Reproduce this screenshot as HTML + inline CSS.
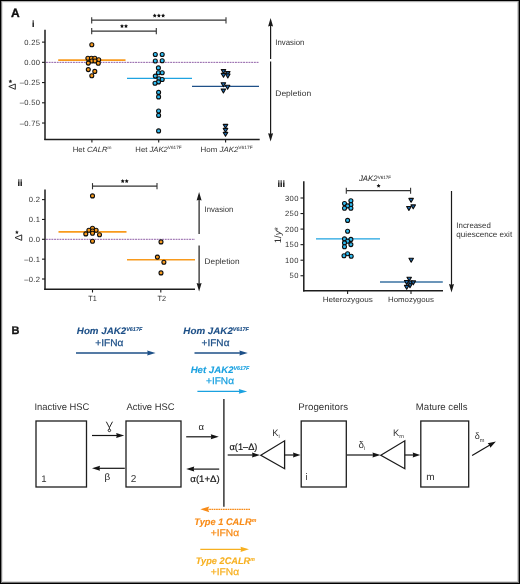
<!DOCTYPE html>
<html><head><meta charset="utf-8"><style>
html,body{margin:0;padding:0;background:#fff;width:520px;height:584px;overflow:hidden;}
svg{display:block;font-family:"Liberation Sans", sans-serif;will-change:transform;text-rendering:geometricPrecision;}
</style></head><body>
<svg width="520" height="584" viewBox="0 0 520 584" font-family='"Liberation Sans", sans-serif'>
<g shape-rendering="crispEdges" stroke-width="1"><line x1="0" y1="2.5" x2="520" y2="2.5" stroke="#f0f0f0"/><line x1="0" y1="581.5" x2="520" y2="581.5" stroke="#d8d8d8"/><line x1="2.5" y1="0" x2="2.5" y2="584" stroke="#e2e2e2"/><line x1="517.5" y1="0" x2="517.5" y2="584" stroke="#d0d0d0"/><line x1="0" y1="1.5" x2="520" y2="1.5" stroke="#b0b0b0"/><line x1="0" y1="582.5" x2="520" y2="582.5" stroke="#707070"/><line x1="1.5" y1="0" x2="1.5" y2="584" stroke="#808080"/><line x1="518.5" y1="0" x2="518.5" y2="584" stroke="#787878"/><line x1="0" y1="0.5" x2="520" y2="0.5" stroke="#000"/><line x1="0" y1="583.5" x2="520" y2="583.5" stroke="#000"/><line x1="0.5" y1="0" x2="0.5" y2="584" stroke="#000"/><line x1="519.5" y1="0" x2="519.5" y2="584" stroke="#000"/></g>
<text x="11.0" y="16.8" font-size="12.0" fill="#111" text-anchor="start" font-weight="bold" font-style="normal" stroke="#111" stroke-width="0.35">A</text>
<text x="32.0" y="26.9" font-size="9" fill="#111" text-anchor="start" font-weight="bold" font-style="normal" stroke="#111" stroke-width="0.2">i</text>
<text x="17.6" y="185.7" font-size="9" fill="#111" text-anchor="start" font-weight="bold" font-style="normal" stroke="#111" stroke-width="0.2">ii</text>
<text x="277.6" y="186.7" font-size="9" fill="#111" text-anchor="start" font-weight="bold" font-style="normal" stroke="#111" stroke-width="0.2">iii</text>
<text x="11.6" y="333.9" font-size="11" fill="#111" text-anchor="start" font-weight="bold" font-style="normal" stroke="#111" stroke-width="0.3">B</text>
<line x1="42" y1="42.125" x2="45" y2="42.125" stroke="#1c1c1c" stroke-width="1.1" />
<text x="40.4" y="44.725" font-size="7.6" fill="#303030" text-anchor="end" font-weight="normal" font-style="normal" letter-spacing="0.35">0.25</text>
<line x1="42" y1="62.35" x2="45" y2="62.35" stroke="#1c1c1c" stroke-width="1.1" />
<text x="40.4" y="64.95" font-size="7.6" fill="#303030" text-anchor="end" font-weight="normal" font-style="normal" letter-spacing="0.35">0.00</text>
<line x1="42" y1="82.575" x2="45" y2="82.575" stroke="#1c1c1c" stroke-width="1.1" />
<text x="40.4" y="85.175" font-size="7.6" fill="#303030" text-anchor="end" font-weight="normal" font-style="normal" letter-spacing="0.35">–0.25</text>
<line x1="42" y1="102.80000000000001" x2="45" y2="102.80000000000001" stroke="#1c1c1c" stroke-width="1.1" />
<text x="40.4" y="105.4" font-size="7.6" fill="#303030" text-anchor="end" font-weight="normal" font-style="normal" letter-spacing="0.35">–0.50</text>
<line x1="42" y1="123.025" x2="45" y2="123.025" stroke="#1c1c1c" stroke-width="1.1" />
<text x="40.4" y="125.625" font-size="7.6" fill="#303030" text-anchor="end" font-weight="normal" font-style="normal" letter-spacing="0.35">–0.75</text>
<line x1="46" y1="62.35" x2="259.3" y2="62.35" stroke="#7a4096" stroke-width="0.85" stroke-dasharray="1.9,0.8"/>
<line x1="58.2" y1="60.1" x2="125.5" y2="60.1" stroke="#f89a1c" stroke-width="1.6" />
<line x1="127" y1="78.4" x2="192" y2="78.4" stroke="#1ea3e1" stroke-width="1.3" />
<line x1="192" y1="86.3" x2="259" y2="86.3" stroke="#1f5088" stroke-width="1.35" />
<circle cx="91.8" cy="44.8" r="2.0" fill="#f89a1c" stroke="#0d0d0d" stroke-width="1.1"/>
<circle cx="87.9" cy="58.3" r="2.0" fill="#f89a1c" stroke="#0d0d0d" stroke-width="1.1"/>
<circle cx="91.4" cy="58.3" r="2.0" fill="#f89a1c" stroke="#0d0d0d" stroke-width="1.1"/>
<circle cx="94.8" cy="58.3" r="2.0" fill="#f89a1c" stroke="#0d0d0d" stroke-width="1.1"/>
<circle cx="98.7" cy="59.7" r="2.0" fill="#f89a1c" stroke="#0d0d0d" stroke-width="1.1"/>
<circle cx="91.8" cy="61" r="2.0" fill="#f89a1c" stroke="#0d0d0d" stroke-width="1.1"/>
<circle cx="95" cy="61" r="2.0" fill="#f89a1c" stroke="#0d0d0d" stroke-width="1.1"/>
<circle cx="88.3" cy="63.1" r="2.0" fill="#f89a1c" stroke="#0d0d0d" stroke-width="1.1"/>
<circle cx="98.3" cy="63.3" r="2.0" fill="#f89a1c" stroke="#0d0d0d" stroke-width="1.1"/>
<circle cx="88.3" cy="69.6" r="2.0" fill="#f89a1c" stroke="#0d0d0d" stroke-width="1.1"/>
<circle cx="94.8" cy="71.4" r="2.0" fill="#f89a1c" stroke="#0d0d0d" stroke-width="1.1"/>
<circle cx="91.8" cy="75.8" r="2.0" fill="#f89a1c" stroke="#0d0d0d" stroke-width="1.1"/>
<circle cx="155.3" cy="54.5" r="2.0" fill="#2fbcf2" stroke="#0d0d0d" stroke-width="1.1"/>
<circle cx="162.2" cy="54.5" r="2.0" fill="#2fbcf2" stroke="#0d0d0d" stroke-width="1.1"/>
<circle cx="155.3" cy="61" r="2.0" fill="#2fbcf2" stroke="#0d0d0d" stroke-width="1.1"/>
<circle cx="162.2" cy="60.7" r="2.0" fill="#2fbcf2" stroke="#0d0d0d" stroke-width="1.1"/>
<circle cx="158.4" cy="67.9" r="2.0" fill="#2fbcf2" stroke="#0d0d0d" stroke-width="1.1"/>
<circle cx="158.4" cy="72.7" r="2.0" fill="#2fbcf2" stroke="#0d0d0d" stroke-width="1.1"/>
<circle cx="162.2" cy="72.7" r="2.0" fill="#2fbcf2" stroke="#0d0d0d" stroke-width="1.1"/>
<circle cx="155.3" cy="76.1" r="2.0" fill="#2fbcf2" stroke="#0d0d0d" stroke-width="1.1"/>
<circle cx="159" cy="78.8" r="2.0" fill="#2fbcf2" stroke="#0d0d0d" stroke-width="1.1"/>
<circle cx="162.2" cy="79.5" r="2.0" fill="#2fbcf2" stroke="#0d0d0d" stroke-width="1.1"/>
<circle cx="158.5" cy="81.9" r="2.0" fill="#2fbcf2" stroke="#0d0d0d" stroke-width="1.1"/>
<circle cx="155" cy="83.3" r="2.0" fill="#2fbcf2" stroke="#0d0d0d" stroke-width="1.1"/>
<circle cx="158.6" cy="92.4" r="2.0" fill="#2fbcf2" stroke="#0d0d0d" stroke-width="1.1"/>
<circle cx="158.6" cy="96.9" r="2.0" fill="#2fbcf2" stroke="#0d0d0d" stroke-width="1.1"/>
<circle cx="158.6" cy="111" r="2.0" fill="#2fbcf2" stroke="#0d0d0d" stroke-width="1.1"/>
<circle cx="158.6" cy="115.4" r="2.0" fill="#2fbcf2" stroke="#0d0d0d" stroke-width="1.1"/>
<circle cx="158.6" cy="130.9" r="2.0" fill="#2fbcf2" stroke="#0d0d0d" stroke-width="1.1"/>
<path d="M221.25,69.60 L225.75,69.60 L223.50,73.50 Z" fill="#1d6cb3" stroke="#0d0d0d" stroke-width="1.1" stroke-linejoin="round"/>
<path d="M225.55,71.60 L230.05,71.60 L227.80,75.50 Z" fill="#1d6cb3" stroke="#0d0d0d" stroke-width="1.1" stroke-linejoin="round"/>
<path d="M225.55,74.00 L230.05,74.00 L227.80,77.90 Z" fill="#1d6cb3" stroke="#0d0d0d" stroke-width="1.1" stroke-linejoin="round"/>
<path d="M221.25,73.40 L225.75,73.40 L223.50,77.30 Z" fill="#1d6cb3" stroke="#0d0d0d" stroke-width="1.1" stroke-linejoin="round"/>
<path d="M221.15,82.75 L225.65,82.75 L223.40,86.65 Z" fill="#1d6cb3" stroke="#0d0d0d" stroke-width="1.1" stroke-linejoin="round"/>
<path d="M225.35,85.30 L229.85,85.30 L227.60,89.20 Z" fill="#1d6cb3" stroke="#0d0d0d" stroke-width="1.1" stroke-linejoin="round"/>
<path d="M221.15,89.10 L225.65,89.10 L223.40,93.00 Z" fill="#1d6cb3" stroke="#0d0d0d" stroke-width="1.1" stroke-linejoin="round"/>
<path d="M223.25,124.40 L227.75,124.40 L225.50,128.30 Z" fill="#1d6cb3" stroke="#0d0d0d" stroke-width="1.1" stroke-linejoin="round"/>
<path d="M223.25,128.40 L227.75,128.40 L225.50,132.30 Z" fill="#1d6cb3" stroke="#0d0d0d" stroke-width="1.1" stroke-linejoin="round"/>
<path d="M223.25,132.40 L227.75,132.40 L225.50,136.30 Z" fill="#1d6cb3" stroke="#0d0d0d" stroke-width="1.1" stroke-linejoin="round"/>
<line x1="45" y1="29.8" x2="45" y2="140.1" stroke="#1c1c1c" stroke-width="1.5" />
<line x1="44.3" y1="139.4" x2="259.7" y2="139.4" stroke="#1e1e1e" stroke-width="1.5" />
<line x1="91.9" y1="139.4" x2="91.9" y2="142.6" stroke="#1c1c1c" stroke-width="1.1" />
<line x1="158.7" y1="139.4" x2="158.7" y2="142.6" stroke="#1c1c1c" stroke-width="1.1" />
<line x1="225.6" y1="139.4" x2="225.6" y2="142.6" stroke="#1c1c1c" stroke-width="1.1" />
<line x1="91.7" y1="20.2" x2="226" y2="20.2" stroke="#333" stroke-width="1.2" />
<line x1="91.7" y1="17.2" x2="91.7" y2="23.4" stroke="#333" stroke-width="1.1" />
<line x1="226" y1="17.2" x2="226" y2="23.4" stroke="#333" stroke-width="1.1" />
<line x1="91.7" y1="31.1" x2="156.3" y2="31.1" stroke="#333" stroke-width="1.2" />
<line x1="91.7" y1="28" x2="91.7" y2="34.2" stroke="#333" stroke-width="1.1" />
<line x1="156.3" y1="28" x2="156.3" y2="34.2" stroke="#333" stroke-width="1.1" />
<polygon points="154.70,13.60 155.32,14.85 156.70,15.05 155.70,16.02 155.93,17.40 154.70,16.75 153.47,17.40 153.70,16.02 152.70,15.05 154.08,14.85" fill="#111"/>
<polygon points="158.90,13.60 159.52,14.85 160.90,15.05 159.90,16.02 160.13,17.40 158.90,16.75 157.67,17.40 157.90,16.02 156.90,15.05 158.28,14.85" fill="#111"/>
<polygon points="163.10,13.60 163.72,14.85 165.10,15.05 164.10,16.02 164.33,17.40 163.10,16.75 161.87,17.40 162.10,16.02 161.10,15.05 162.48,14.85" fill="#111"/>
<polygon points="122.00,24.10 122.62,25.35 124.00,25.55 123.00,26.52 123.23,27.90 122.00,27.25 120.77,27.90 121.00,26.52 120.00,25.55 121.38,25.35" fill="#111"/>
<polygon points="126.00,24.10 126.62,25.35 128.00,25.55 127.00,26.52 127.23,27.90 126.00,27.25 124.77,27.90 125.00,26.52 124.00,25.55 125.38,25.35" fill="#111"/>
<text x="72.75" y="151.7" font-size="7.5" fill="#303030" text-anchor="start" font-weight="normal" font-style="normal"  textLength="38.80" lengthAdjust="spacingAndGlyphs">Het <tspan font-style="italic">CALR</tspan><tspan font-size="4.6" dy="-2.3">m</tspan></text>
<text x="135.35000000000002" y="151.7" font-size="7.5" fill="#303030" text-anchor="start" font-weight="normal" font-style="normal"  textLength="46.40" lengthAdjust="spacingAndGlyphs">Het <tspan font-style="italic">JAK2</tspan><tspan font-size="4.6" dy="-2.3">V617F</tspan></text>
<text x="200.55" y="151.7" font-size="7.5" fill="#303030" text-anchor="start" font-weight="normal" font-style="normal"  textLength="52.10" lengthAdjust="spacingAndGlyphs">Hom <tspan font-style="italic">JAK2</tspan><tspan font-size="4.6" dy="-2.3">V617F</tspan></text>
<path d="M8.8,86.5 L15.3,84.0 L15.3,89.3 Z" fill="none" stroke="#222" stroke-width="0.95" stroke-linejoin="miter"/>
<polygon points="10.40,79.45 10.97,80.61 12.25,80.80 11.33,81.70 11.55,82.98 10.40,82.38 9.25,82.98 9.47,81.70 8.55,80.80 9.83,80.61" fill="#222"/>
<line x1="270.6" y1="59.0" x2="270.6" y2="23.14" stroke="#1a1a1a" stroke-width="1.2" />
<path d="M270.6,18.1 L268.1,26.5 L270.6,25.828000000000003 L273.1,26.5 Z" fill="#1a1a1a"/>
<line x1="270.6" y1="61.6" x2="270.6" y2="136.56" stroke="#1a1a1a" stroke-width="1.2" />
<path d="M270.6,141.6 L268.1,133.2 L270.6,133.87199999999999 L273.1,133.2 Z" fill="#1a1a1a"/>
<text x="275.25" y="45.0" font-size="8.1" fill="#303030" text-anchor="start" font-weight="normal" font-style="normal"  textLength="29.10" lengthAdjust="spacingAndGlyphs">Invasion</text>
<text x="275.25" y="95.6" font-size="8.1" fill="#303030" text-anchor="start" font-weight="normal" font-style="normal"  textLength="35.90" lengthAdjust="spacingAndGlyphs">Depletion</text>
<line x1="42" y1="199.60000000000002" x2="45" y2="199.60000000000002" stroke="#1c1c1c" stroke-width="1.1" />
<text x="40.4" y="202.20000000000002" font-size="7.6" fill="#303030" text-anchor="end" font-weight="normal" font-style="normal" letter-spacing="0.35">0.2</text>
<line x1="42" y1="219.45000000000002" x2="45" y2="219.45000000000002" stroke="#1c1c1c" stroke-width="1.1" />
<text x="40.4" y="222.05" font-size="7.6" fill="#303030" text-anchor="end" font-weight="normal" font-style="normal" letter-spacing="0.35">0.1</text>
<line x1="42" y1="239.3" x2="45" y2="239.3" stroke="#1c1c1c" stroke-width="1.1" />
<text x="40.4" y="241.9" font-size="7.6" fill="#303030" text-anchor="end" font-weight="normal" font-style="normal" letter-spacing="0.35">0.0</text>
<line x1="42" y1="259.15000000000003" x2="45" y2="259.15000000000003" stroke="#1c1c1c" stroke-width="1.1" />
<text x="40.4" y="261.75000000000006" font-size="7.6" fill="#303030" text-anchor="end" font-weight="normal" font-style="normal" letter-spacing="0.35">–0.1</text>
<line x1="42" y1="279.0" x2="45" y2="279.0" stroke="#1c1c1c" stroke-width="1.1" />
<text x="40.4" y="281.6" font-size="7.6" fill="#303030" text-anchor="end" font-weight="normal" font-style="normal" letter-spacing="0.35">–0.2</text>
<line x1="46" y1="239.3" x2="195" y2="239.3" stroke="#7a4096" stroke-width="0.85" stroke-dasharray="1.9,0.8"/>
<line x1="58.5" y1="231.9" x2="126.5" y2="231.9" stroke="#f89a1c" stroke-width="1.6" />
<line x1="127" y1="259.8" x2="195" y2="259.8" stroke="#f89a1c" stroke-width="1.6" />
<circle cx="92.5" cy="195.9" r="2.0" fill="#f89a1c" stroke="#0d0d0d" stroke-width="1.1"/>
<circle cx="92.5" cy="228.3" r="2.0" fill="#f89a1c" stroke="#0d0d0d" stroke-width="1.1"/>
<circle cx="88.9" cy="230.2" r="2.0" fill="#f89a1c" stroke="#0d0d0d" stroke-width="1.1"/>
<circle cx="96.1" cy="230.2" r="2.0" fill="#f89a1c" stroke="#0d0d0d" stroke-width="1.1"/>
<circle cx="92.5" cy="231" r="2.0" fill="#f89a1c" stroke="#0d0d0d" stroke-width="1.1"/>
<circle cx="92.5" cy="233.3" r="2.0" fill="#f89a1c" stroke="#0d0d0d" stroke-width="1.1"/>
<circle cx="85.8" cy="233.9" r="2.0" fill="#f89a1c" stroke="#0d0d0d" stroke-width="1.1"/>
<circle cx="99.5" cy="234.8" r="2.0" fill="#f89a1c" stroke="#0d0d0d" stroke-width="1.1"/>
<circle cx="92.5" cy="241.2" r="2.0" fill="#f89a1c" stroke="#0d0d0d" stroke-width="1.1"/>
<circle cx="161" cy="241.9" r="2.0" fill="#f89a1c" stroke="#0d0d0d" stroke-width="1.1"/>
<circle cx="157.4" cy="257.1" r="2.0" fill="#f89a1c" stroke="#0d0d0d" stroke-width="1.1"/>
<circle cx="163.9" cy="262.2" r="2.0" fill="#f89a1c" stroke="#0d0d0d" stroke-width="1.1"/>
<circle cx="161" cy="272.9" r="2.0" fill="#f89a1c" stroke="#0d0d0d" stroke-width="1.1"/>
<line x1="45" y1="189.6" x2="45" y2="290" stroke="#1c1c1c" stroke-width="1.5" />
<line x1="44.3" y1="289.3" x2="195" y2="289.3" stroke="#1c1c1c" stroke-width="1.5" />
<line x1="92.5" y1="289.3" x2="92.5" y2="292.5" stroke="#1c1c1c" stroke-width="1.1" />
<line x1="160.8" y1="289.3" x2="160.8" y2="292.5" stroke="#1c1c1c" stroke-width="1.1" />
<line x1="92.5" y1="186.2" x2="157" y2="186.2" stroke="#333" stroke-width="1.2" />
<line x1="92.5" y1="183.1" x2="92.5" y2="189.3" stroke="#333" stroke-width="1.1" />
<line x1="157" y1="183.1" x2="157" y2="189.3" stroke="#333" stroke-width="1.1" />
<polygon points="122.70,179.10 123.32,180.35 124.70,180.55 123.70,181.52 123.93,182.90 122.70,182.25 121.47,182.90 121.70,181.52 120.70,180.55 122.08,180.35" fill="#111"/>
<polygon points="126.70,179.10 127.32,180.35 128.70,180.55 127.70,181.52 127.93,182.90 126.70,182.25 125.47,182.90 125.70,181.52 124.70,180.55 126.08,180.35" fill="#111"/>
<text x="88.25" y="301.2" font-size="7.5" fill="#303030" text-anchor="start" font-weight="normal" font-style="normal"  textLength="8.50" lengthAdjust="spacingAndGlyphs">T1</text>
<text x="157.45000000000002" y="301.2" font-size="7.5" fill="#303030" text-anchor="start" font-weight="normal" font-style="normal"  textLength="8.60" lengthAdjust="spacingAndGlyphs">T2</text>
<path d="M15.0,237.6 L21.7,234.9 L21.7,240.4 Z" fill="none" stroke="#222" stroke-width="0.95" stroke-linejoin="miter"/>
<polygon points="16.90,230.35 17.47,231.51 18.75,231.70 17.83,232.60 18.05,233.88 16.90,233.28 15.75,233.88 15.97,232.60 15.05,231.70 16.33,231.51" fill="#222"/>
<line x1="199.1" y1="234.1" x2="199.1" y2="197.04" stroke="#1a1a1a" stroke-width="1.2" />
<path d="M199.1,192.0 L196.6,200.4 L199.1,199.728 L201.6,200.4 Z" fill="#1a1a1a"/>
<line x1="199.1" y1="245.4" x2="199.1" y2="286.46" stroke="#1a1a1a" stroke-width="1.2" />
<path d="M199.1,291.5 L196.6,283.1 L199.1,283.772 L201.6,283.1 Z" fill="#1a1a1a"/>
<text x="204.55" y="212.3" font-size="8.1" fill="#303030" text-anchor="start" font-weight="normal" font-style="normal"  textLength="28.80" lengthAdjust="spacingAndGlyphs">Invasion</text>
<text x="204.55" y="264.1" font-size="8.1" fill="#303030" text-anchor="start" font-weight="normal" font-style="normal"  textLength="35.00" lengthAdjust="spacingAndGlyphs">Depletion</text>
<line x1="300.5" y1="198.0" x2="303.8" y2="198.0" stroke="#1c1c1c" stroke-width="1.1" />
<text x="298.8" y="200.6" font-size="7.6" fill="#303030" text-anchor="end" font-weight="normal" font-style="normal" letter-spacing="0.4">300</text>
<line x1="300.5" y1="213.55" x2="303.8" y2="213.55" stroke="#1c1c1c" stroke-width="1.1" />
<text x="298.8" y="216.15" font-size="7.6" fill="#303030" text-anchor="end" font-weight="normal" font-style="normal" letter-spacing="0.4">250</text>
<line x1="300.5" y1="229.1" x2="303.8" y2="229.1" stroke="#1c1c1c" stroke-width="1.1" />
<text x="298.8" y="231.7" font-size="7.6" fill="#303030" text-anchor="end" font-weight="normal" font-style="normal" letter-spacing="0.4">200</text>
<line x1="300.5" y1="244.65" x2="303.8" y2="244.65" stroke="#1c1c1c" stroke-width="1.1" />
<text x="298.8" y="247.25" font-size="7.6" fill="#303030" text-anchor="end" font-weight="normal" font-style="normal" letter-spacing="0.4">150</text>
<line x1="300.5" y1="260.2" x2="303.8" y2="260.2" stroke="#1c1c1c" stroke-width="1.1" />
<text x="298.8" y="262.8" font-size="7.6" fill="#303030" text-anchor="end" font-weight="normal" font-style="normal" letter-spacing="0.4">100</text>
<line x1="300.5" y1="275.75" x2="303.8" y2="275.75" stroke="#1c1c1c" stroke-width="1.1" />
<text x="298.8" y="278.35" font-size="7.6" fill="#303030" text-anchor="end" font-weight="normal" font-style="normal" letter-spacing="0.4">50</text>
<line x1="316" y1="238.9" x2="380" y2="238.9" stroke="#1ea3e1" stroke-width="1.3" />
<line x1="380" y1="282" x2="442.8" y2="282" stroke="#3a72a2" stroke-width="1.5" />
<circle cx="350.9" cy="200.8" r="2.0" fill="#2fbcf2" stroke="#0d0d0d" stroke-width="1.1"/>
<circle cx="344.5" cy="203.5" r="2.0" fill="#2fbcf2" stroke="#0d0d0d" stroke-width="1.1"/>
<circle cx="350.9" cy="204.8" r="2.0" fill="#2fbcf2" stroke="#0d0d0d" stroke-width="1.1"/>
<circle cx="347.6" cy="205.9" r="2.0" fill="#2fbcf2" stroke="#0d0d0d" stroke-width="1.1"/>
<circle cx="344.5" cy="208.3" r="2.0" fill="#2fbcf2" stroke="#0d0d0d" stroke-width="1.1"/>
<circle cx="350.9" cy="208.3" r="2.0" fill="#2fbcf2" stroke="#0d0d0d" stroke-width="1.1"/>
<circle cx="347.6" cy="220.4" r="2.0" fill="#2fbcf2" stroke="#0d0d0d" stroke-width="1.1"/>
<circle cx="347.6" cy="231.2" r="2.0" fill="#2fbcf2" stroke="#0d0d0d" stroke-width="1.1"/>
<circle cx="344.5" cy="238.9" r="2.0" fill="#2fbcf2" stroke="#0d0d0d" stroke-width="1.1"/>
<circle cx="350.9" cy="239.4" r="2.0" fill="#2fbcf2" stroke="#0d0d0d" stroke-width="1.1"/>
<circle cx="347.6" cy="241.3" r="2.0" fill="#2fbcf2" stroke="#0d0d0d" stroke-width="1.1"/>
<circle cx="344.5" cy="242.9" r="2.0" fill="#2fbcf2" stroke="#0d0d0d" stroke-width="1.1"/>
<circle cx="350.9" cy="244.6" r="2.0" fill="#2fbcf2" stroke="#0d0d0d" stroke-width="1.1"/>
<circle cx="344.5" cy="246.8" r="2.0" fill="#2fbcf2" stroke="#0d0d0d" stroke-width="1.1"/>
<circle cx="344" cy="255.8" r="2.0" fill="#2fbcf2" stroke="#0d0d0d" stroke-width="1.1"/>
<circle cx="347.6" cy="253.7" r="2.0" fill="#2fbcf2" stroke="#0d0d0d" stroke-width="1.1"/>
<circle cx="351.2" cy="256.3" r="2.0" fill="#2fbcf2" stroke="#0d0d0d" stroke-width="1.1"/>
<path d="M408.85,198.40 L413.35,198.40 L411.10,202.30 Z" fill="#1d6cb3" stroke="#0d0d0d" stroke-width="1.1" stroke-linejoin="round"/>
<path d="M406.65,206.50 L411.15,206.50 L408.90,210.40 Z" fill="#1d6cb3" stroke="#0d0d0d" stroke-width="1.1" stroke-linejoin="round"/>
<path d="M410.95,204.90 L415.45,204.90 L413.20,208.80 Z" fill="#1d6cb3" stroke="#0d0d0d" stroke-width="1.1" stroke-linejoin="round"/>
<path d="M408.95,258.30 L413.45,258.30 L411.20,262.20 Z" fill="#1d6cb3" stroke="#0d0d0d" stroke-width="1.1" stroke-linejoin="round"/>
<path d="M406.95,277.20 L411.45,277.20 L409.20,281.10 Z" fill="#1d6cb3" stroke="#0d0d0d" stroke-width="1.1" stroke-linejoin="round"/>
<path d="M404.45,280.50 L408.95,280.50 L406.70,284.40 Z" fill="#1d6cb3" stroke="#0d0d0d" stroke-width="1.1" stroke-linejoin="round"/>
<path d="M408.15,281.00 L412.65,281.00 L410.40,284.90 Z" fill="#1d6cb3" stroke="#0d0d0d" stroke-width="1.1" stroke-linejoin="round"/>
<path d="M411.05,280.90 L415.55,280.90 L413.30,284.80 Z" fill="#1d6cb3" stroke="#0d0d0d" stroke-width="1.1" stroke-linejoin="round"/>
<path d="M407.75,283.80 L412.25,283.80 L410.00,287.70 Z" fill="#1d6cb3" stroke="#0d0d0d" stroke-width="1.1" stroke-linejoin="round"/>
<path d="M404.45,285.40 L408.95,285.40 L406.70,289.30 Z" fill="#1d6cb3" stroke="#0d0d0d" stroke-width="1.1" stroke-linejoin="round"/>
<line x1="303.8" y1="181.3" x2="303.8" y2="291.4" stroke="#1c1c1c" stroke-width="1.5" />
<line x1="303.1" y1="290.7" x2="443" y2="290.7" stroke="#1c1c1c" stroke-width="1.5" />
<line x1="347.6" y1="290.7" x2="347.6" y2="293.9" stroke="#1c1c1c" stroke-width="1.1" />
<line x1="411" y1="290.7" x2="411" y2="293.9" stroke="#1c1c1c" stroke-width="1.1" />
<line x1="346.3" y1="190.7" x2="410.6" y2="190.7" stroke="#333" stroke-width="1.2" />
<line x1="346.3" y1="187.7" x2="346.3" y2="193.7" stroke="#333" stroke-width="1.1" />
<line x1="410.6" y1="187.7" x2="410.6" y2="193.7" stroke="#333" stroke-width="1.1" />
<polygon points="378.60,183.80 379.22,185.05 380.60,185.25 379.60,186.22 379.83,187.60 378.60,186.95 377.37,187.60 377.60,186.22 376.60,185.25 377.98,185.05" fill="#111"/>
<text x="358.95" y="180.7" font-size="7.9" fill="#262626" text-anchor="start" font-weight="normal" font-style="normal"  textLength="32.20" lengthAdjust="spacingAndGlyphs"><tspan font-style="italic">JAK2</tspan><tspan font-size="4.6" dy="-2.1">V617F</tspan></text>
<text x="322.65000000000003" y="301.7" font-size="7.6" fill="#303030" text-anchor="start" font-weight="normal" font-style="normal"  textLength="50.10" lengthAdjust="spacingAndGlyphs">Heterozygous</text>
<text x="387.95" y="301.7" font-size="7.6" fill="#303030" text-anchor="start" font-weight="normal" font-style="normal"  textLength="46.00" lengthAdjust="spacingAndGlyphs">Homozygous</text>
<text x="0" y="0" font-size="9.4" fill="#333" text-anchor="start" font-weight="normal" font-style="normal" transform="translate(280.6,243.2) rotate(-90)">1/<tspan font-style="italic">y</tspan>*</text>
<line x1="451.5" y1="191" x2="451.5" y2="287.46" stroke="#1a1a1a" stroke-width="1.2" />
<path d="M451.5,292.5 L449.0,284.1 L451.5,284.772 L454.0,284.1 Z" fill="#1a1a1a"/>
<text x="456.35" y="227.8" font-size="8.1" fill="#303030" text-anchor="start" font-weight="normal" font-style="normal"  textLength="34.40" lengthAdjust="spacingAndGlyphs">Increased</text>
<text x="456.35" y="236.8" font-size="8.1" fill="#303030" text-anchor="start" font-weight="normal" font-style="normal"  textLength="55.80" lengthAdjust="spacingAndGlyphs">quiescence exit</text>
<text x="76.85" y="334.1" font-size="9.5" fill="#1c4f87" text-anchor="start" font-weight="bold" font-style="italic" stroke="#1c4f87" stroke-width="0.12" textLength="65.40" lengthAdjust="spacingAndGlyphs">Hom JAK2<tspan font-size="5.3" dy="-3.0">V617F</tspan></text>
<text x="95.35" y="345.8" font-size="9.8" fill="#1c4f87" text-anchor="start" font-weight="normal" font-style="normal" stroke="#1c4f87" stroke-width="0.25" textLength="28.10" lengthAdjust="spacingAndGlyphs">+IFNα</text>
<line x1="76" y1="353.0" x2="150.56" y2="353.0" stroke="#1c4f87" stroke-width="1.3" />
<path d="M155.6,353.0 L147.2,350.55 L147.78799999999998,353.0 L147.2,355.45 Z" fill="#1c4f87"/>
<text x="183.35000000000002" y="334.1" font-size="9.5" fill="#1c4f87" text-anchor="start" font-weight="bold" font-style="italic" stroke="#1c4f87" stroke-width="0.12" textLength="65.60" lengthAdjust="spacingAndGlyphs">Hom JAK2<tspan font-size="5.3" dy="-3.0">V617F</tspan></text>
<text x="201.55" y="345.8" font-size="9.8" fill="#1c4f87" text-anchor="start" font-weight="normal" font-style="normal" stroke="#1c4f87" stroke-width="0.25" textLength="27.90" lengthAdjust="spacingAndGlyphs">+IFNα</text>
<line x1="194.5" y1="353.0" x2="242.76000000000002" y2="353.0" stroke="#1c4f87" stroke-width="1.3" />
<path d="M247.8,353.0 L239.4,350.55 L239.988,353.0 L239.4,355.45 Z" fill="#1c4f87"/>
<text x="190.65" y="372.8" font-size="9.5" fill="#1aa1e0" text-anchor="start" font-weight="bold" font-style="italic" stroke="#1aa1e0" stroke-width="0.12" textLength="58.70" lengthAdjust="spacingAndGlyphs">Het JAK2<tspan font-size="5.3" dy="-3.0">V617F</tspan></text>
<text x="206.05" y="384.0" font-size="9.8" fill="#1aa1e0" text-anchor="start" font-weight="normal" font-style="normal" stroke="#1aa1e0" stroke-width="0.25" textLength="27.90" lengthAdjust="spacingAndGlyphs">+IFNα</text>
<line x1="197.4" y1="391.4" x2="242.16" y2="391.4" stroke="#1aa1e0" stroke-width="1.3" />
<path d="M247.2,391.4 L238.79999999999998,388.95 L239.38799999999998,391.4 L238.79999999999998,393.84999999999997 Z" fill="#1aa1e0"/>
<rect x="36" y="421" width="50.5" height="66" fill="none" stroke="#1e1e1e" stroke-width="1.3"/>
<rect x="126" y="421" width="55" height="66" fill="none" stroke="#1e1e1e" stroke-width="1.3"/>
<rect x="301.2" y="421" width="45.10000000000002" height="66" fill="none" stroke="#1e1e1e" stroke-width="1.3"/>
<rect x="420.8" y="421" width="47.89999999999998" height="66" fill="none" stroke="#1e1e1e" stroke-width="1.3"/>
<text x="34.449999999999996" y="410" font-size="9.6" fill="#333" text-anchor="start" font-weight="normal" font-style="normal"  textLength="54.90" lengthAdjust="spacingAndGlyphs">Inactive HSC</text>
<text x="126.45" y="410" font-size="9.6" fill="#333" text-anchor="start" font-weight="normal" font-style="normal"  textLength="48.20" lengthAdjust="spacingAndGlyphs">Active HSC</text>
<text x="298.35" y="410" font-size="9.6" fill="#333" text-anchor="start" font-weight="normal" font-style="normal"  textLength="49.70" lengthAdjust="spacingAndGlyphs">Progenitors</text>
<text x="415.85" y="410" font-size="9.6" fill="#333" text-anchor="start" font-weight="normal" font-style="normal"  textLength="51.70" lengthAdjust="spacingAndGlyphs">Mature cells</text>
<text x="41.2" y="481.7" font-size="9.6" fill="#333" text-anchor="start" font-weight="normal" font-style="normal" >1</text>
<text x="130.8" y="481.9" font-size="10" fill="#333" text-anchor="start" font-weight="normal" font-style="normal" >2</text>
<text x="305.6" y="480.2" font-size="9.5" fill="#333" text-anchor="start" font-weight="normal" font-style="normal" >i</text>
<text x="426.15000000000003" y="480.4" font-size="9.8" fill="#333" text-anchor="start" font-weight="normal" font-style="normal"  textLength="8.40" lengthAdjust="spacingAndGlyphs">m</text>
<line x1="92" y1="435.5" x2="119.4" y2="435.5" stroke="#141414" stroke-width="1.2" />
<path d="M124.2,435.5 L116.2,433.0 L116.76,435.5 L116.2,438.0 Z" fill="#141414"/>
<line x1="124.8" y1="468.3" x2="96.8" y2="468.3" stroke="#141414" stroke-width="1.2" />
<path d="M92,468.3 L100,465.8 L99.44,468.3 L100,470.8 Z" fill="#141414"/>
<path d="M106.3,421.7 L109.4,427.6 L112.5,421.7 M109.4,427.6 L109.4,429" fill="none" stroke="#1a1a1a" stroke-width="0.95"/>
<circle cx="109.4" cy="430.4" r="1.25" fill="none" stroke="#1a1a1a" stroke-width="0.95"/>
<text x="104.45" y="480.4" font-size="9.3" fill="#1a1a1a" text-anchor="start" font-weight="normal" font-style="normal"  textLength="5.70" lengthAdjust="spacingAndGlyphs">β</text>
<line x1="186.2" y1="436.8" x2="214.0" y2="436.8" stroke="#141414" stroke-width="1.2" />
<path d="M218.8,436.8 L210.8,434.3 L211.36,436.8 L210.8,439.3 Z" fill="#141414"/>
<line x1="219.2" y1="469.1" x2="191.0" y2="469.1" stroke="#141414" stroke-width="1.2" />
<path d="M186.2,469.1 L194.2,466.6 L193.64,469.1 L194.2,471.6 Z" fill="#141414"/>
<text x="201.2" y="430" font-size="9.5" fill="#222" text-anchor="middle" font-weight="normal" font-style="normal" >α</text>
<text x="190.35000000000002" y="481.8" font-size="9.3" fill="#1a1a1a" text-anchor="start" font-weight="normal" font-style="normal" stroke="#1a1a1a" stroke-width="0.2" textLength="29.30" lengthAdjust="spacingAndGlyphs">α(1+Δ)</text>
<line x1="223.9" y1="399" x2="223.9" y2="506.8" stroke="#161616" stroke-width="1.3" />
<text x="229.55" y="449.5" font-size="9.3" fill="#1a1a1a" text-anchor="start" font-weight="normal" font-style="normal" stroke="#1a1a1a" stroke-width="0.2" textLength="27.80" lengthAdjust="spacingAndGlyphs">α(1–Δ)</text>
<line x1="227.7" y1="455" x2="255.2" y2="455" stroke="#141414" stroke-width="1.2" />
<path d="M260,455 L252,452.5 L252.56,455 L252,457.5 Z" fill="#141414"/>
<path d="M260.8,455.2 L284.6,440.8 L284.6,468.7 Z" fill="none" stroke="#1a1a1a" stroke-width="1.3" stroke-linejoin="miter"/>
<path d="M380.8,455.2 L404.8,440.8 L404.8,468.7 Z" fill="none" stroke="#1a1a1a" stroke-width="1.3" stroke-linejoin="miter"/>
<line x1="284.6" y1="455" x2="296.0" y2="455" stroke="#141414" stroke-width="1.2" />
<path d="M300.5,455 L293.0,452.5 L293.525,455 L293.0,457.5 Z" fill="#141414"/>
<line x1="347" y1="455" x2="375.7" y2="455" stroke="#141414" stroke-width="1.2" />
<path d="M380.5,455 L372.5,452.5 L373.06,455 L372.5,457.5 Z" fill="#141414"/>
<line x1="404.8" y1="455" x2="415.7" y2="455" stroke="#141414" stroke-width="1.2" />
<path d="M420.2,455 L412.7,452.5 L413.22499999999997,455 L412.7,457.5 Z" fill="#141414"/>
<text x="272.3" y="435.5" font-size="9.3" fill="#333" text-anchor="start" font-weight="normal" font-style="normal" >K<tspan font-size="5.6" dy="2.5">i</tspan></text>
<text x="393.0" y="435.5" font-size="9.3" fill="#333" text-anchor="start" font-weight="normal" font-style="normal" >K<tspan font-size="5.6" dy="2.5">m</tspan></text>
<text x="358.4" y="447.5" font-size="9.8" fill="#333" text-anchor="start" font-weight="normal" font-style="normal" >δ<tspan font-size="5.6" dy="2.5">i</tspan></text>
<text x="474.8" y="439.2" font-size="9.0" fill="#333" text-anchor="start" font-weight="normal" font-style="normal" >δ<tspan font-size="5.6" dy="2.6">m</tspan></text>
<g transform="translate(472.1,455.4) rotate(-30.47)"><line x1="0" y1="0" x2="22.61" y2="0" stroke="#141414" stroke-width="1.2"/><path d="M27.61,0 L19.61,-2.6 L20.21,0 L19.61,2.6 Z" fill="#141414"/></g>
<line x1="250" y1="509.3" x2="205.70000000000002" y2="509.3" stroke="#f88b17" stroke-width="1.25" stroke-dasharray="1.7,0.6"/>
<path d="M200.3,509.3 L209.3,506.40000000000003 L207.95000000000002,509.3 L209.3,512.2 Z" fill="#f88b17"/>
<text x="194.35000000000002" y="524.9" font-size="9.5" fill="#f88b17" text-anchor="start" font-weight="bold" font-style="italic" stroke="#f88b17" stroke-width="0.12" textLength="61.90" lengthAdjust="spacingAndGlyphs">Type 1 CALR<tspan font-size="5.3" dy="-3.0">m</tspan></text>
<text x="210.75" y="536.3" font-size="9.8" fill="#f88b17" text-anchor="start" font-weight="normal" font-style="normal" stroke="#f88b17" stroke-width="0.25" textLength="28.30" lengthAdjust="spacingAndGlyphs">+IFNα</text>
<line x1="200.3" y1="549.3" x2="243.9" y2="549.3" stroke="#f7b020" stroke-width="1.3" />
<path d="M249,549.3 L240.5,546.6999999999999 L241.095,549.3 L240.5,551.9 Z" fill="#f7b020"/>
<text x="195.75" y="563.7" font-size="9.5" fill="#f7b020" text-anchor="start" font-weight="bold" font-style="italic" stroke="#f7b020" stroke-width="0.12" textLength="59.10" lengthAdjust="spacingAndGlyphs">Type 2CALR<tspan font-size="5.3" dy="-3.0">m</tspan></text>
<text x="210.75" y="575.0" font-size="9.8" fill="#f7b020" text-anchor="start" font-weight="normal" font-style="normal" stroke="#f7b020" stroke-width="0.25" textLength="28.30" lengthAdjust="spacingAndGlyphs">+IFNα</text>
</svg>
</body></html>
